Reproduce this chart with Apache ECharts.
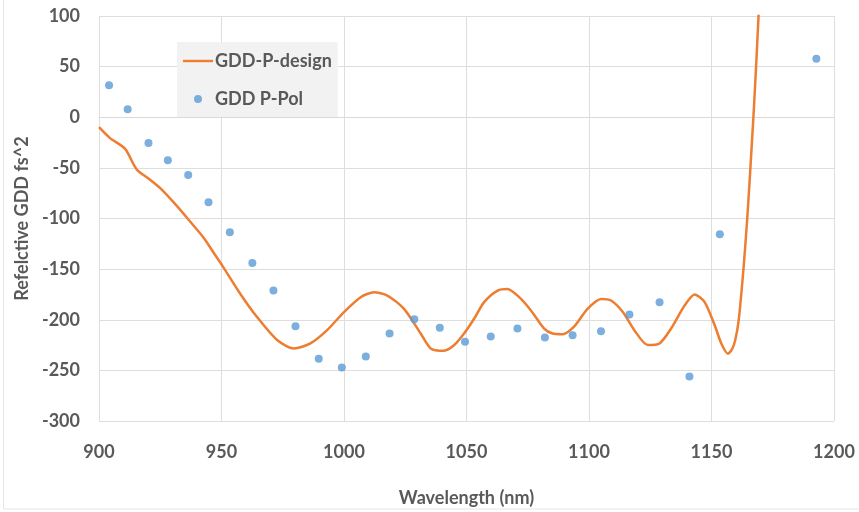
<!DOCTYPE html>
<html>
<head>
<meta charset="utf-8">
<script src="https://cdn.jsdelivr.net/npm/echarts@6/dist/echarts.min.js"></script>
<style>
  html, body { margin: 0; padding: 0; background: #fff; }
  #chart { width: 859px; height: 512px; }
</style>
</head>
<body>
<div id="chart"></div>
<script>
// Design curve: wavelength (nm) and GDD (fs^2)
const designWavelength = [900, 904.5, 910.6, 915.4, 920.2, 925, 930.4, 936.5, 942.7, 947.4,
  950.2, 957.7, 964.5, 972.7, 979.5, 986.3, 993.1, 1000, 1006.8, 1012.2, 1017.7, 1024.5,
  1031.3, 1035.4, 1040.8, 1045, 1049, 1053.1, 1057.2, 1062.7, 1066.7, 1071.5, 1076.3,
  1081.7, 1085.1, 1089.2, 1094, 1099.4, 1104.9, 1109, 1113.8, 1118.5, 1124, 1128.8,
  1133.5, 1139, 1143.1, 1147.2, 1151.3, 1154, 1156.7, 1158.4, 1159.7, 1161.1, 1163.1,
  1164.6, 1165.5, 1167.1, 1168.2, 1169.2, 1169.7];
const designGDD = [-9.8, -20.6, -31, -51.6, -60.4, -70, -83.9, -101, -119, -136,
  -146, -174.5, -197.3, -220, -228.3, -223.4, -210.3, -192.4, -177.7, -172.9, -176.1, -189.2,
  -213.6, -228.3, -230.6, -225, -213.6, -199, -182.6, -171.2, -169.6, -177.7, -190.8,
  -208.7, -213.6, -214.3, -206.5, -189.2, -179.4, -181, -192.4, -210.3, -225, -223.4,
  -208.7, -185.9, -175, -182.6, -205.4, -223.4, -233.5, -229, -220, -200.5, -148.4,
  -99.5, -65, 0, 50, 100, 125];

// Measured P-polarisation GDD
const measWavelength = [904.1, 911.7, 920.2, 928.1, 936.4, 944.7, 953.4, 962.6, 971.2, 980.2,
  989.7, 999.1, 1008.9, 1018.6, 1028.7, 1039.1, 1049.4, 1059.9, 1070.8, 1082.0, 1093.3,
  1104.9, 1116.5, 1128.8, 1141.0, 1153.4, 1192.8];
const measGDD = [31.5, 8, -25.5, -42.5, -57, -84, -113.5, -144, -171, -206.4,
  -238.4, -247.2, -236.4, -213.6, -199.6, -207.8, -221.8, -216.6, -208.7, -217.5, -215.2,
  -211.3, -194.7, -182.6, -256, -115.5, 57.7];

const xTicks = { min: 900, max: 1200, step: 50 };
const yTicks = { min: -300, max: 100, step: 50 };

const zip = (a, b) => a.map((v, i) => [v, b[i]]);

const textColor = '#595959';
const fontFamily = 'Lato, "Open Sans", "Liberation Sans", sans-serif';
const labelFont = { color: textColor, fontSize: 18, fontWeight: 'bold', fontFamily: fontFamily };

const chart = echarts.init(document.getElementById('chart'), null, { renderer: 'canvas' });
chart.setOption({
  animation: false,
  backgroundColor: '#ffffff',
  grid: { left: 99, right: 25, top: 16, bottom: 87, containLabel: false },
  legend: {
    orient: 'vertical',
    left: 177,
    top: 42,
    padding: [9, 6, 8, 6],
    itemGap: 18,
    itemWidth: 30,
    itemHeight: 14,
    backgroundColor: '#f2f2f2',
    textStyle: Object.assign({}, labelFont, { lineHeight: 20, padding: [0, 0, 0, -3] }),
    data: [
      { name: 'GDD-P-design', icon: 'path://M0,6 L30,6 L30,8.4 L0,8.4 Z' },
      { name: 'GDD P-Pol', icon: 'path://M15,7 m-4,0 a4,4 0 1,0 8,0 a4,4 0 1,0 -8,0 M0,0 L0.01,0 M30,14 L29.99,14' }
    ]
  },
  xAxis: {
    type: 'value',
    min: xTicks.min, max: xTicks.max, interval: xTicks.step,
    name: 'Wavelength (nm)',
    nameLocation: 'middle',
    nameGap: 68,
    nameTextStyle: labelFont,
    axisLine: { show: true, lineStyle: { color: '#d9d9d9', width: 1 } },
    axisTick: { show: false },
    axisLabel: Object.assign({}, labelFont, { margin: 22, formatter: v => String(v) }),
    splitLine: { show: true, lineStyle: { color: '#dedede', width: 1 } }
  },
  yAxis: {
    type: 'value',
    min: yTicks.min, max: yTicks.max, interval: yTicks.step,
    name: 'Refelctive GDD fs^2',
    nameLocation: 'middle',
    nameRotate: 90,
    nameGap: 63,
    nameTextStyle: labelFont,
    axisLine: { show: false },
    axisTick: { show: false },
    axisLabel: Object.assign({}, labelFont, { margin: 19, formatter: v => String(v) }),
    splitLine: { show: true, lineStyle: { color: '#dedede', width: 1 } }
  },
  series: [
    {
      name: 'GDD-P-design',
      type: 'line',
      data: zip(designWavelength, designGDD),
      smooth: 0.25,
      symbol: 'none',
      clip: true,
      lineStyle: { color: '#ED7D31', width: 2.5 },
      itemStyle: { color: '#ED7D31' },
      z: 2
    },
    {
      name: 'GDD P-Pol',
      type: 'scatter',
      data: zip(measWavelength, measGDD),
      symbol: 'circle',
      symbolSize: 8,
      itemStyle: { color: '#5B9BD5' },
      z: 3
    }
  ],
  graphic: [
    {
      type: 'rect',
      shape: { x: 3.5, y: -2, width: 860, height: 511 },
      style: { fill: 'none', stroke: '#e6e6e6', lineWidth: 1 },
      silent: true
    }
  ]
});
</script>
</body>
</html>
